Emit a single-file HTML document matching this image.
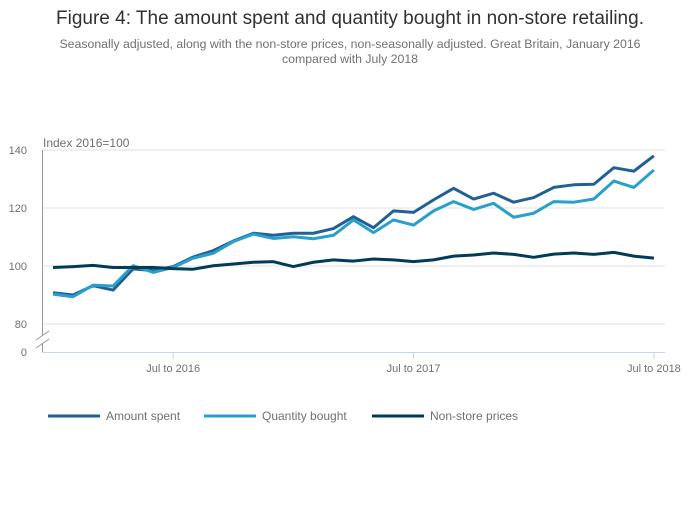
<!DOCTYPE html>
<html><head><meta charset="utf-8"><style>
body{margin:0;background:#fff;font-family:"Liberation Sans",sans-serif;}
svg text{font-family:"Liberation Sans",sans-serif;}
</style></head><body>
<svg id="chart" width="700" height="502">
<text x="350" y="24" text-anchor="middle" font-size="19" fill="#323132">Figure 4: The amount spent and quantity bought in non-store retailing.</text>
<text x="350" y="48" text-anchor="middle" font-size="12.3" fill="#707071">Seasonally adjusted, along with the non-store prices, non-seasonally adjusted. Great Britain, January 2016</text>
<text x="350" y="63" text-anchor="middle" font-size="12.3" fill="#707071">compared with July 2018</text>
<text x="43" y="147" font-size="12" fill="#707071">Index 2016=100</text>
<g id="grid"></g><g id="axes"></g><g id="series"></g><g id="legend"></g>
</svg>
<script>
const yTicks=[140,120,100,80];
const xTickLabels=["Jul to 2016","Jul to 2017","Jul to 2018"];
const xTickIdx=[6,18,30];
const amountSpent=[90.8,90,93.2,91.7,99,98.4,99.8,103.1,105.3,108.6,111.3,110.6,111.3,111.3,112.9,117,113.2,119,118.5,122.8,126.8,123.1,125.1,122,123.6,127.1,128,128.2,133.9,132.7,138];
const quantityBought=[90.3,89.4,93.4,93.1,100.1,97.8,99.5,102.7,104.4,108.4,111,109.5,110.1,109.4,110.6,115.9,111.5,115.9,114.1,119,122.2,119.5,121.6,116.8,118.2,122.2,122,123.1,129.3,127.1,133.1];
const nonStorePrices=[99.5,99.8,100.2,99.5,99.5,99.5,99.1,98.9,100.1,100.7,101.3,101.5,99.8,101.3,102.1,101.7,102.4,102.1,101.5,102.1,103.4,103.8,104.5,104,103,104.1,104.5,104,104.7,103.4,102.7];
const seriesNames=["Amount spent","Quantity bought","Non-store prices"];
const colors=["#206095","#27a0cc","#003c57"];
const NS="http://www.w3.org/2000/svg";
function x(i){return 53+i*20.03;}
function y(v){return 266-(v-100)*2.9;}
function mk(tag,attrs,parent){const e=document.createElementNS(NS,tag);for(const k in attrs)e.setAttribute(k,attrs[k]);parent.appendChild(e);return e;}
const grid=document.getElementById('grid'),axes=document.getElementById('axes'),ser=document.getElementById('series'),leg=document.getElementById('legend');
yTicks.forEach(t=>{
 const l=mk('line',{x1:42,x2:665,y1:y(t),y2:y(t),stroke:'#e0e0e0','stroke-width':1},grid);
 
 
 const tx=mk('text',{x:27,y:y(t)+4,'text-anchor':'end','font-size':11,fill:'#707071'},grid);
 tx.textContent=t;
 
 
});
const z=mk('text',{x:27,y:356,'text-anchor':'end','font-size':11,fill:'#707071'},grid);z.textContent='0';


const ya=mk('path',{d:'M42.5 150 V336 M42.5 344 V352',stroke:'#999',fill:'none'},axes);


const br=mk('path',{d:'M36 340 L49 331 M36 348 L49 339',stroke:'#999',fill:'none'},axes);


const xa=mk('line',{x1:42,x2:665,y1:352.5,y2:352.5,stroke:'#c7d5e8'},axes);


xTickIdx.forEach((i,k)=>{
 const t=mk('line',{x1:x(i),x2:x(i),y1:352,y2:359,stroke:'#c7d5e8'},axes);
 
 
 const tx=mk('text',{x:x(i),y:372,'text-anchor':'middle','font-size':11,fill:'#707071'},axes);
 tx.textContent=xTickLabels[k];
 
 
});
[amountSpent,quantityBought,nonStorePrices].forEach((d,s)=>{
 const p=mk('polyline',{points:d.map((v,i)=>x(i)+','+y(v)).join(' '),fill:'none',stroke:colors[s],'stroke-width':3,'stroke-linejoin':'round'},ser);
 
 
});
const lx=[48,204,372];
seriesNames.forEach((n,s)=>{
 const g=mk('g',{},leg);
 
 
 mk('line',{x1:lx[s],x2:lx[s]+52,y1:416,y2:416,stroke:colors[s],'stroke-width':3},g);
 const t=mk('text',{x:lx[s]+58,y:420,'font-size':12,fill:'#707071'},g);t.textContent=n;
});
</script>
</body></html>
